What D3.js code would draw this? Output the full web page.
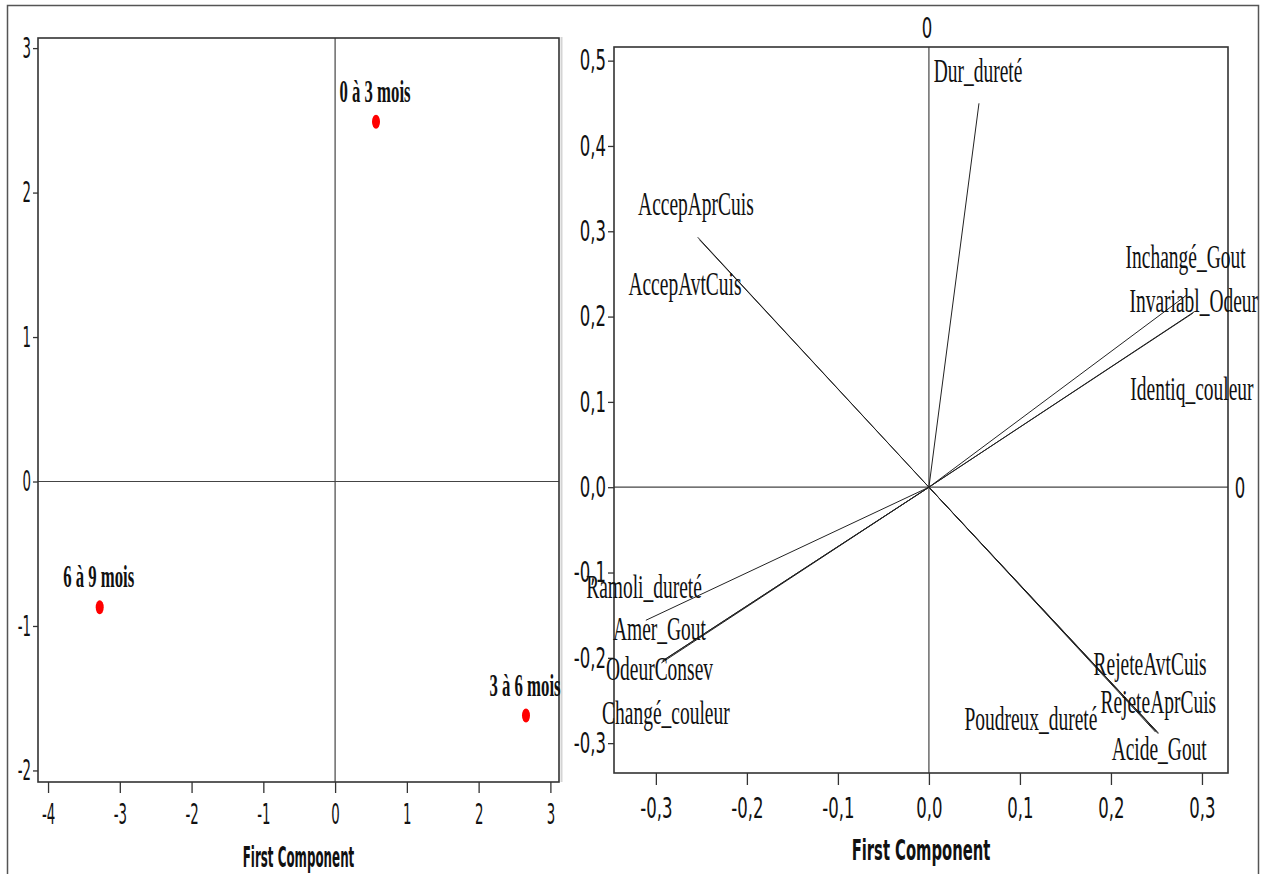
<!DOCTYPE html>
<html><head><meta charset="utf-8">
<script src="https://cdn.jsdelivr.net/npm/d3@7"></script>
<style>body{margin:0;background:#fff}svg{display:block}</style>
</head><body>
<svg id="c" width="1263" height="874"></svg>
<script>
// ---------- data: score plot ----------
const scoreLabels = ["0 à 3 mois", "3 à 6 mois", "6 à 9 mois"];
const scorePC1 = [0.57, 2.66, -3.28];
const scorePC2 = [2.49, -1.62, -0.87];
const scoreXTicks = [-4, -3, -2, -1, 0, 1, 2, 3];
const scoreYTicks = [-2, -1, 0, 1, 2, 3];

// ---------- data: loading plot ----------
const varNames = ["Dur_dureté", "Inchangé_Gout", "Invariabl_Odeur", "Identiq_couleur",
  "AccepAprCuis", "AccepAvtCuis", "Ramoli_dureté", "Amer_Gout", "OdeurConsev",
  "Changé_couleur", "RejeteAvtCuis", "RejeteAprCuis", "Poudreux_dureté", "Acide_Gout"];
const loadPC1 = [0.055, 0.283, 0.292, 0.290, -0.254, -0.252, -0.311, -0.292, -0.294, -0.293, 0.250, 0.252, 0.249, 0.252];
const loadPC2 = [0.450, 0.225, 0.206, 0.204, 0.293, 0.290, -0.156, -0.203, -0.206, -0.204, -0.286, -0.288, -0.287, -0.289];
// label anchor positions (data units) as placed in the original figure
const labelPC1 = [0.054, 0.282, 0.291, 0.289, -0.256, -0.268, -0.313, -0.296, -0.296, -0.289, 0.243, 0.252, 0.112, 0.253];
const labelPC2 = [0.475, 0.257, 0.205, 0.102, 0.319, 0.225, -0.130, -0.179, -0.226, -0.277, -0.220, -0.265, -0.285, -0.320];
const loadXTicks = [-0.3, -0.2, -0.1, 0, 0.1, 0.2, 0.3];
const loadYTicks = [-0.3, -0.2, -0.1, 0, 0.1, 0.2, 0.3, 0.4, 0.5];
const axisTitle = "First Component";
const refLabel = "0";

// ---------- drawing ----------
const svg = d3.select("#c");
const INK = "#111";
const SANS = "'DejaVu Sans', sans-serif";
const SERIF = "'Liberation Serif', 'Times New Roman', serif";

function sText(g, str, x, y, sx, o) {
  return g.append("text")
    .attr("transform", `translate(${x},${y}) scale(${sx},1)`)
    .attr("text-anchor", o.anchor || "middle")
    .attr("font-family", o.family)
    .attr("font-size", o.size)
    .attr("font-weight", o.weight || "normal")
    .attr("fill", INK)
    .text(str);
}

// outer frame and separator
svg.append("path").attr("d", "M7.5,874 V5.5 H1258.5 V874")
  .attr("fill", "none").attr("stroke", "#555").attr("stroke-width", 1.5);
svg.append("line").attr("x1", 561.5).attr("x2", 561.5).attr("y1", 37).attr("y2", 782)
  .attr("stroke", "#d4d4d4").attr("stroke-width", 2);

const fmtInt = d => d3.format("d")(d).replace("−", "-");
const fmtDec = d => d3.format(".1f")(d).replace("−", "-").replace(".", ",");

function styleAxis(g, sx, side) {
  g.select(".domain").remove();
  g.attr("font-family", SANS).attr("font-size", 29).attr("color", "#333");
  g.selectAll(".tick line").attr("stroke-width", 1.3);
  g.selectAll(".tick text").attr("fill", INK).each(function () {
    const t = d3.select(this);
    if (side === "left") t.attr("x", +t.attr("x") / sx);
    t.attr("transform", `scale(${sx},1)`);
  });
}

function panel(opt) {
  const { x, y, xTicks, yTicks, fmt, sxTick, sxTitle, titleY, xTickSize, xPad, yTickSize, yPad } = opt;
  const [x0, x1] = x.range();
  const [y0, y1] = y.range(); // y0 bottom, y1 top
  const g = svg.append("g");
  // zero reference lines
  g.append("line").attr("x1", x(0)).attr("x2", x(0)).attr("y1", y1).attr("y2", y0)
    .attr("stroke", "#444").attr("stroke-width", 1.2);
  g.append("line").attr("x1", x0).attr("x2", x1).attr("y1", y(0)).attr("y2", y(0))
    .attr("stroke", "#444").attr("stroke-width", 1.2);
  // box
  g.append("rect").attr("x", x0).attr("y", y1).attr("width", x1 - x0).attr("height", y0 - y1)
    .attr("fill", "none").attr("stroke", "#333").attr("stroke-width", 1.6);
  // axes
  const gx = g.append("g").attr("transform", `translate(0,${y0})`)
    .call(d3.axisBottom(x).tickValues(xTicks).tickFormat(fmt).tickSize(xTickSize).tickSizeOuter(0).tickPadding(xPad));
  styleAxis(gx, sxTick, "bottom");
  const gy = g.append("g").attr("transform", `translate(${x0},0)`)
    .call(d3.axisLeft(y).tickValues(yTicks).tickFormat(fmt).tickSize(yTickSize).tickSizeOuter(0).tickPadding(yPad));
  styleAxis(gy, sxTick, "left");
  // title
  sText(g, axisTitle, (x0 + x1) / 2, titleY, sxTitle, { family: SANS, size: 29, weight: "bold" });
  return g;
}

// ----- left: score plot -----
const xL = d3.scaleLinear().domain([-4.14, 3.12]).range([38, 559]);
const yL = d3.scaleLinear().domain([-2.08, 3.07]).range([782, 38]);
const gL = panel({ x: xL, y: yL, xTicks: scoreXTicks, yTicks: scoreYTicks, fmt: fmtInt,
  sxTick: 0.46, sxTitle: 0.41, titleY: 867, xTickSize: 11, xPad: 10.5, yTickSize: 5, yPad: 2 });

scoreLabels.forEach((lab, i) => {
  const px = xL(scorePC1[i]), py = yL(scorePC2[i]);
  gL.append("ellipse").attr("cx", px).attr("cy", py).attr("rx", 4).attr("ry", 7).attr("fill", "#ff0000");
  sText(gL, lab, px - 1, py - 20, 0.54, { family: SERIF, size: 31, weight: "bold" });
});

// ----- right: loading plot -----
const xR = d3.scaleLinear().domain([-0.346, 0.3286]).range([614, 1228]);
const yR = d3.scaleLinear().domain([-0.335, 0.516]).range([773, 47]);
const gR = panel({ x: xR, y: yR, xTicks: loadXTicks, yTicks: loadYTicks, fmt: fmtDec,
  sxTick: 0.57, sxTitle: 0.51, titleY: 860, xTickSize: 12, xPad: 12, yTickSize: 6, yPad: 2 });

sText(gR, refLabel, xR(0) - 2, 37.5, 0.57, { family: SANS, size: 29 });
sText(gR, refLabel, 1240, yR(0) + 10.5, 0.57, { family: SANS, size: 29 });

varNames.forEach((name, i) => {
  gR.append("line")
    .attr("x1", xR(0)).attr("y1", yR(0))
    .attr("x2", xR(loadPC1[i])).attr("y2", yR(loadPC2[i]))
    .attr("stroke", "#222").attr("stroke-width", 1);
});
varNames.forEach((name, i) => {
  sText(gR, name, xR(labelPC1[i]), yR(labelPC2[i]), 0.59, { family: SERIF, size: 33 });
});
</script>
</body></html>
